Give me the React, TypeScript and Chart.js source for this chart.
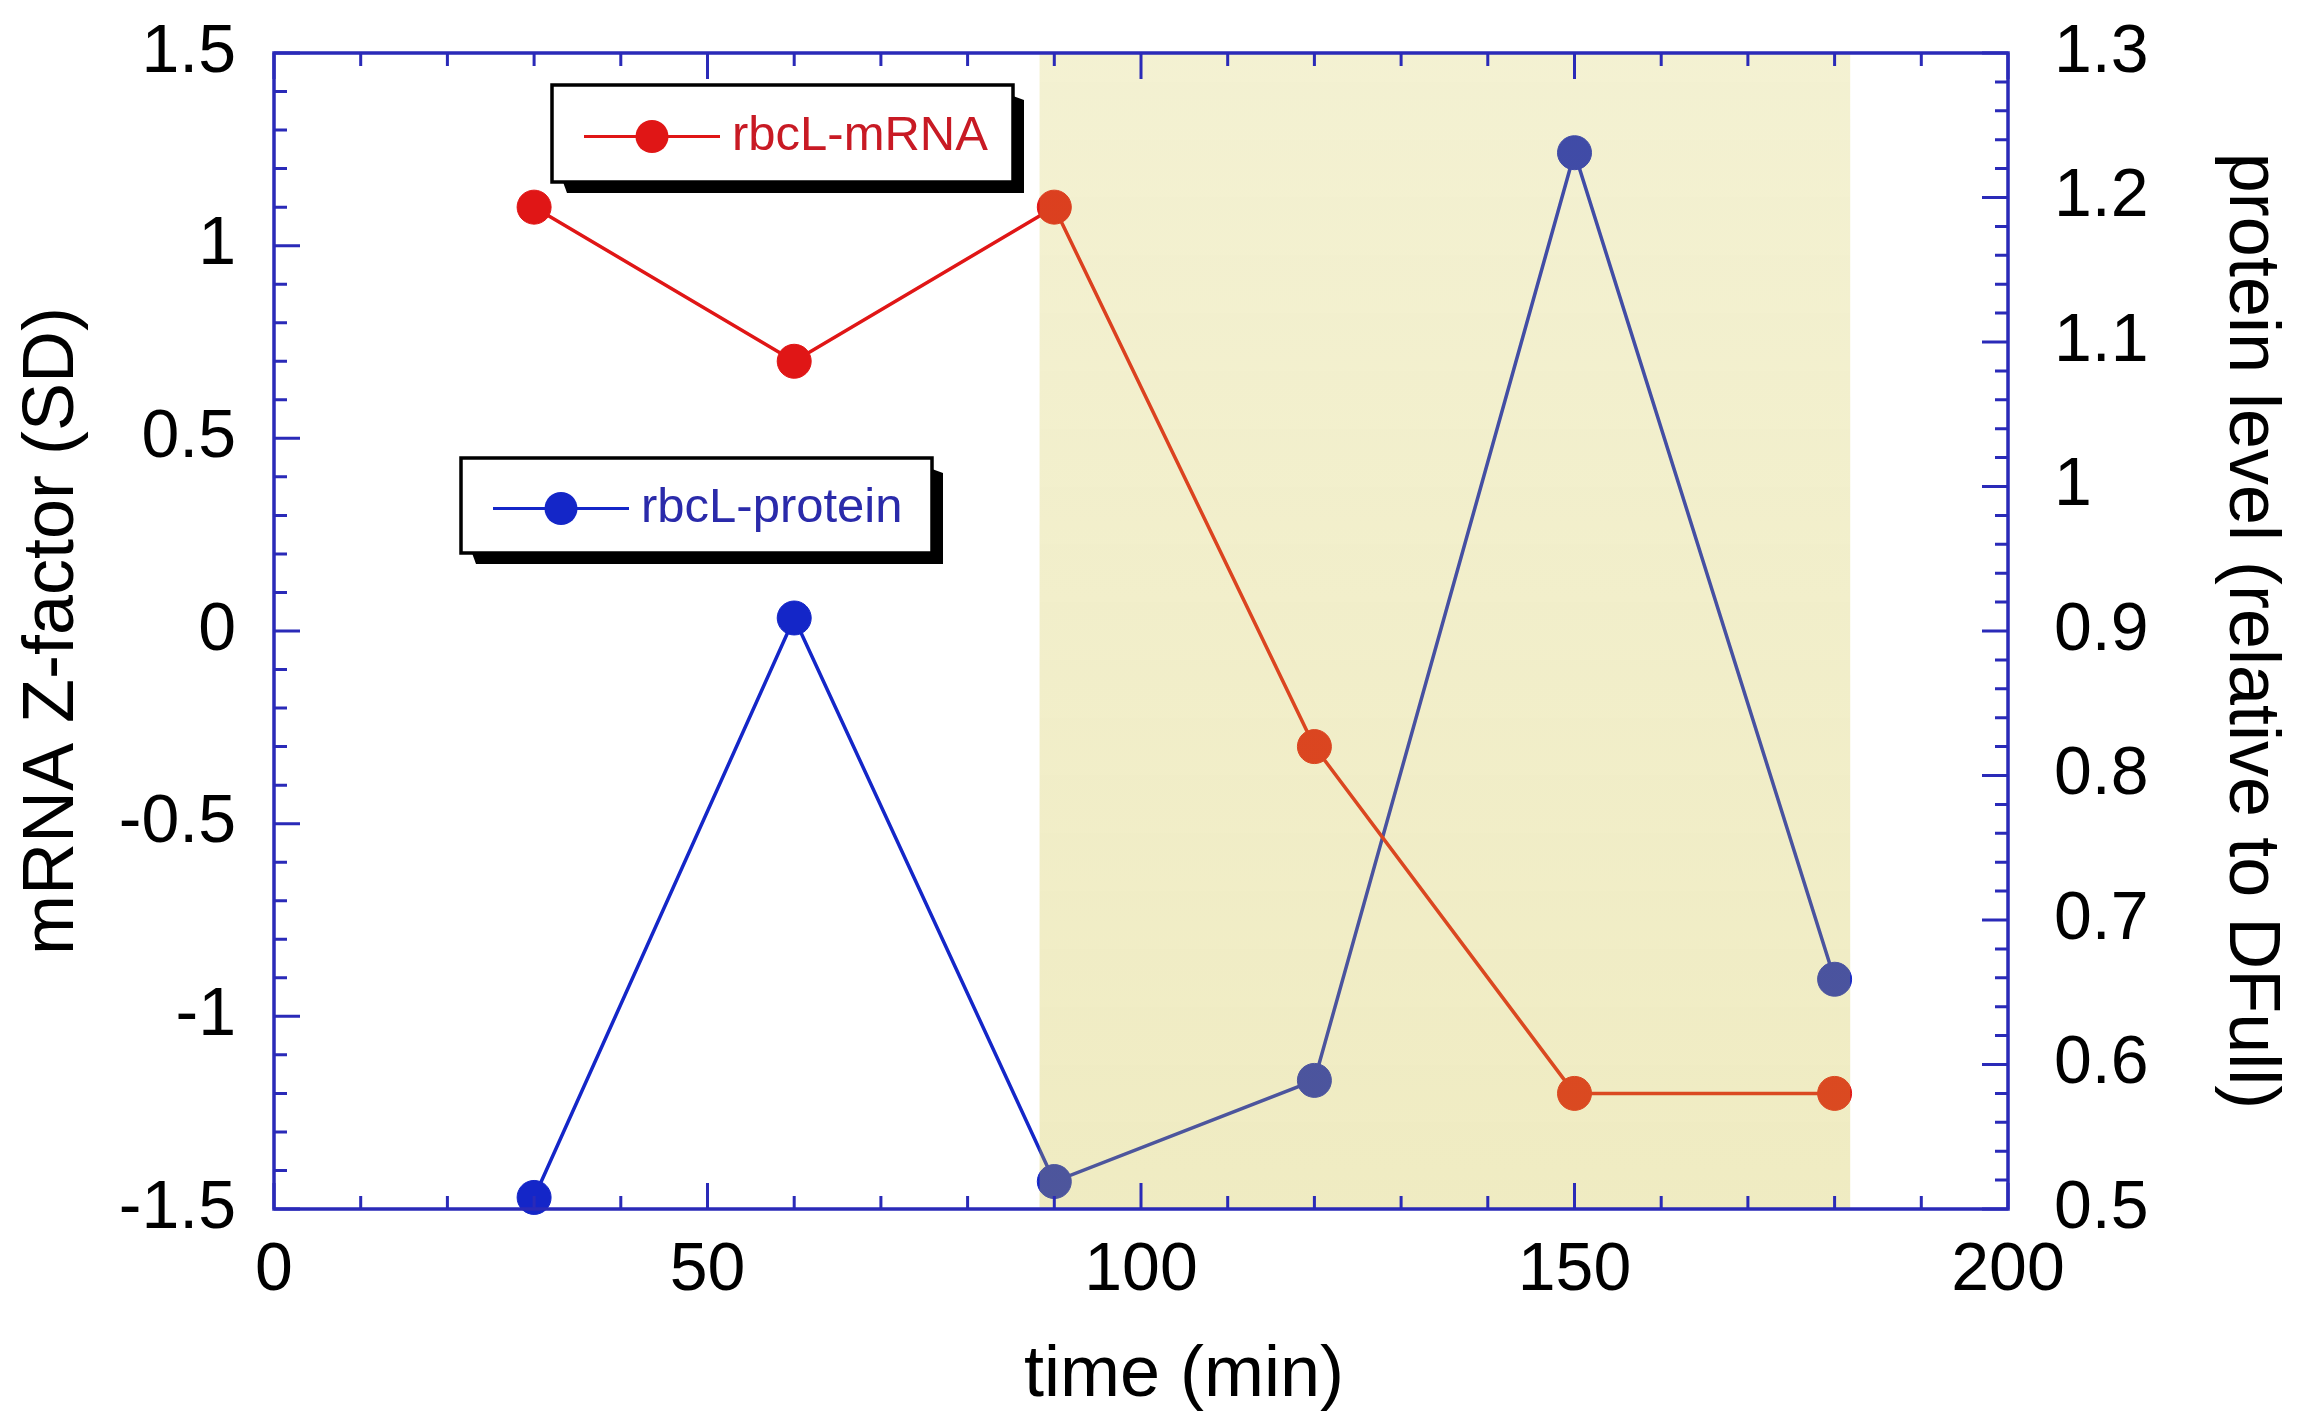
import React, { useEffect, useRef } from 'react';
import { Chart, registerables } from 'chart.js';

Chart.register(...registerables);

// ---- data ----
const timeMin = [30, 60, 90, 120, 150, 180];
const mrnaZ = [1.1, 0.7, 1.1, -0.3, -1.2, -1.2];
const proteinLevel = [0.508, 0.909, 0.519, 0.589, 1.231, 0.659];
const seriesLabels = ['rbcL-mRNA', 'rbcL-protein'];
const xTitle = 'time (min)';
const yLeftTitle = 'mRNA Z-factor (SD)';
const yRightTitle = 'protein level (relative to DFull)';
const shadedRange = [88.3, 181.8];
const xRange = [0, 200];
const yLeftRange = [-1.5, 1.5];
const yRightRange = [0.5, 1.3];

const FONT = '"Liberation Sans", Arial, Helvetica, sans-serif';
const AXIS_BLUE = '#2a2ab8';
const RED = '#e01616';
const BLUE = '#1426c8';

function drawTicks(ctx: CanvasRenderingContext2D, chart: any) {
  const { left, right, top, bottom } = chart.chartArea;
  const xs = chart.scales.x;
  const yl = chart.scales.y;
  const yr = chart.scales.y1;
  const MAJ = 26;
  const MIN = 13;
  ctx.save();
  ctx.strokeStyle = AXIS_BLUE;
  ctx.lineWidth = 3;
  ctx.beginPath();
  for (let i = 0; i <= 20; i++) {
    const v = xRange[0] + i * 10;
    const p = xs.getPixelForValue(v);
    const L = i % 5 === 0 ? MAJ : MIN;
    ctx.moveTo(p, bottom);
    ctx.lineTo(p, bottom - L);
    ctx.moveTo(p, top);
    ctx.lineTo(p, top + L);
  }
  for (let i = 0; i <= 30; i++) {
    const v = yLeftRange[0] + i * 0.1;
    const p = yl.getPixelForValue(v);
    const L = i % 5 === 0 ? MAJ : MIN;
    ctx.moveTo(left, p);
    ctx.lineTo(left + L, p);
  }
  for (let i = 0; i <= 40; i++) {
    const v = yRightRange[0] + i * 0.02;
    const p = yr.getPixelForValue(v);
    const L = i % 5 === 0 ? MAJ : MIN;
    ctx.moveTo(right, p);
    ctx.lineTo(right - L, p);
  }
  ctx.stroke();
  ctx.lineWidth = 3.5;
  ctx.strokeRect(left, top, right - left, bottom - top);
  ctx.restore();
}

function drawLegendBox(
  ctx: CanvasRenderingContext2D,
  x: number,
  y: number,
  w: number,
  h: number,
  color: string,
  textColor: string,
  label: string
) {
  ctx.save();
  const off = 11;
  ctx.fillStyle = '#000';
  ctx.beginPath();
  ctx.moveTo(x + w, y + off);
  ctx.lineTo(x + w + off, y + off + 4);
  ctx.lineTo(x + w + off, y + h + off);
  ctx.lineTo(x + off + 4, y + h + off);
  ctx.lineTo(x + off, y + h);
  ctx.closePath();
  ctx.fill();
  ctx.fillStyle = '#fff';
  ctx.fillRect(x, y, w, h);
  ctx.strokeStyle = '#000';
  ctx.lineWidth = 3.5;
  ctx.strokeRect(x, y, w, h);
  const cy = y + h / 2 + 3;
  const lx0 = x + 32;
  const lx1 = x + 168;
  ctx.strokeStyle = color;
  ctx.lineWidth = 3;
  ctx.beginPath();
  ctx.moveTo(lx0, cy);
  ctx.lineTo(lx1, cy);
  ctx.stroke();
  ctx.fillStyle = color;
  ctx.beginPath();
  ctx.arc((lx0 + lx1) / 2, cy, 16.5, 0, Math.PI * 2);
  ctx.fill();
  ctx.fillStyle = textColor;
  ctx.font = `49px ${FONT}`;
  ctx.textAlign = 'left';
  ctx.textBaseline = 'middle';
  ctx.fillText(label, lx1 + 12, cy);
  ctx.restore();
}

const decorPlugin = {
  id: 'decor',
  afterDatasetsDraw(chart: any) {
    const ctx = chart.ctx as CanvasRenderingContext2D;
    const { top, bottom } = chart.chartArea;
    const xs = chart.scales.x;
    const x0 = xs.getPixelForValue(shadedRange[0]);
    const x1 = xs.getPixelForValue(shadedRange[1]);
    ctx.save();
    const g = ctx.createLinearGradient(0, top, 0, bottom);
    g.addColorStop(0, 'rgba(205,195,60,0.23)');
    g.addColorStop(1, 'rgba(205,192,58,0.31)');
    ctx.fillStyle = g;
    ctx.fillRect(x0, top, x1 - x0, bottom - top);
    ctx.restore();
  },
  afterDraw(chart: any) {
    const ctx = chart.ctx as CanvasRenderingContext2D;
    const { left, top, right, bottom } = chart.chartArea;
    drawTicks(ctx, chart);
    const ds = chart.data.datasets;
    drawLegendBox(ctx, left + 278, top + 32, 461, 97, ds[0].borderColor, '#c81a24', ds[0].label);
    drawLegendBox(ctx, left + 187, top + 405, 471, 95, ds[1].borderColor, '#2a2aaa', ds[1].label);
    ctx.save();
    ctx.fillStyle = '#000';
    ctx.font = `72px ${FONT}`;
    ctx.textAlign = 'center';
    ctx.textBaseline = 'alphabetic';
    ctx.fillText(xTitle, (left + right) / 2 + 43, bottom + 187);
    ctx.restore();
  },
};

export default function App() {
  const ref = useRef<HTMLCanvasElement | null>(null);
  useEffect(() => {
    if (!ref.current) return;
    const tickFont = { family: FONT, size: 68, lineHeight: 1 };
    const titleFont = { family: FONT, size: 72, lineHeight: 1 };
    const lineDs = (label: string, ys: number[], axis: string, color: string) => ({
      label,
      data: timeMin.map((t, i) => ({ x: t, y: ys[i] })),
      yAxisID: axis,
      borderColor: color,
      backgroundColor: color,
      pointBackgroundColor: color,
      pointBorderColor: color,
      borderWidth: 3.5,
      pointRadius: 17,
      pointHoverRadius: 17,
      pointBorderWidth: 1,
      tension: 0,
      clip: false as any,
    });
    const chart = new Chart(ref.current, {
      type: 'line',
      data: {
        datasets: [
          lineDs(seriesLabels[0], mrnaZ, 'y', RED),
          lineDs(seriesLabels[1], proteinLevel, 'y1', BLUE),
        ],
      },
      options: {
        animation: false,
        responsive: false,
        maintainAspectRatio: false,
        layout: { padding: { top: 53, left: 0, right: 0, bottom: 0 } },
        plugins: {
          legend: { display: false },
          tooltip: { enabled: false },
        },
        scales: {
          x: {
            type: 'linear',
            position: 'bottom',
            min: xRange[0],
            max: xRange[1],
            ticks: { stepSize: 50, font: tickFont, color: '#000', padding: 28, maxRotation: 0 },
            grid: { display: false, drawTicks: false },
            border: { display: false },
            afterFit: (s: any) => {
              s.height = 203;
              s.paddingLeft = 0;
              s.paddingRight = 0;
            },
          },
          y: {
            type: 'linear',
            position: 'left',
            min: yLeftRange[0],
            max: yLeftRange[1],
            ticks: {
              stepSize: 0.5,
              font: tickFont,
              color: '#000',
              padding: 38,
              callback: (v: any) => String(Math.round(Number(v) * 100) / 100),
            },
            grid: { display: false, drawTicks: false },
            border: { display: false },
            title: { display: true, text: yLeftTitle, font: titleFont, color: '#000', padding: { top: 17, bottom: 0 } },
            afterFit: (s: any) => {
              s.width = 274;
              s.paddingTop = 0;
              s.paddingBottom = 0;
            },
          },
          y1: {
            type: 'linear',
            position: 'right',
            min: yRightRange[0],
            max: yRightRange[1],
            ticks: {
              stepSize: 0.1,
              font: tickFont,
              color: '#000',
              padding: 46,
              callback: (v: any) => String(Math.round(Number(v) * 10) / 10),
            },
            grid: { display: false, drawTicks: false },
            border: { display: false },
            title: { display: true, text: yRightTitle, font: titleFont, color: '#000', padding: { top: 26, bottom: 0 } },
            afterFit: (s: any) => {
              s.width = 304;
              s.paddingTop = 0;
              s.paddingBottom = 0;
            },
          },
        },
      } as any,
      plugins: [decorPlugin],
    });
    return () => chart.destroy();
  }, []);
  return (
    <div style={{ position: 'fixed', left: 0, top: 0, width: 2312, height: 1412, background: '#fff' }}>
      <canvas ref={ref} width={2312} height={1412} style={{ display: 'block', width: 2312, height: 1412 }} />
    </div>
  );
}
